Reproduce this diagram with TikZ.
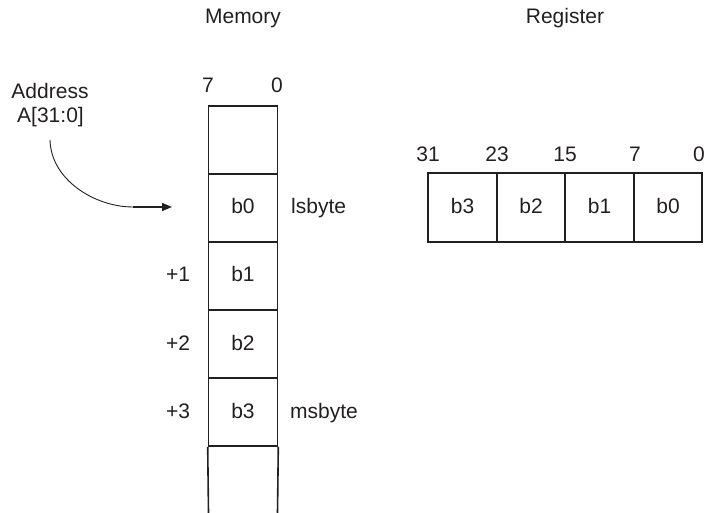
\documentclass[tikz,border=0pt]{standalone}
\usepackage{fontspec}
\setmainfont{Liberation Sans}
\usetikzlibrary{arrows.meta}
\definecolor{ink}{RGB}{35,31,32}
\begin{document}
\begin{tikzpicture}[x=1pt,y=-1pt,color=ink,
  lbl/.style={inner sep=0pt,anchor=base,font=\fontsize{21}{24}\selectfont},
  cellbox/.style={draw,line width=1.6pt,minimum width=69pt,minimum height=68pt,inner sep=0pt,text height=14pt,text depth=2pt,font=\fontsize{21}{24}\selectfont},
  regbox/.style={draw,line width=1.6pt,minimum width=68.5pt,minimum height=69pt,inner sep=0pt,text height=14pt,text depth=2pt,font=\fontsize{21}{24}\selectfont}]
\useasboundingbox (0,0) rectangle (718,513);
% titles
\node[lbl] (memt) at (243,24) {Memory};
\node[lbl] (regt) at (565,24) {Register};
% memory column
\node[cellbox] (m0) at (243,140) {};
\node[cellbox] (m1) at (243,208) {b0};
\node[cellbox] (m2) at (243,276) {b1};
\node[cellbox] (m3) at (243,344) {b2};
\node[cellbox] (m4) at (243,412) {b3};
\coordinate (mbl) at (208.5,513);
\coordinate (mbr) at (277.5,513);
\draw[line width=1.6pt] (m4.south west) -- (mbl) (m4.south east) -- (mbr);
\node[lbl] (h7) at (208,93) {7};
\node[lbl] (h0) at (277,93) {0};
\node[lbl,anchor=base west] (lsb) at (291,214) {lsbyte};
\node[lbl,anchor=base west] (msb) at (290,418) {msbyte};
\node[lbl] (p1) at (178,282) {+1};
\node[lbl] (p2) at (178,350) {+2};
\node[lbl] (p3) at (178,418) {+3};
% address
\node[lbl] (addr) at (50,99) {Address};
\node[lbl] (aaddr) at (50.5,123) {A[31:0]};
\coordinate (astart) at (50,140);
\coordinate (amid) at (133,207);
\coordinate (aend) at (172,207);
\draw[line width=0.9pt] (astart) .. controls (51,180) and (95,207) .. (amid);
\draw[line width=1.4pt,-{Triangle[length=10pt,width=8pt]}] (amid) -- (aend);
% register
\node[regbox] (r3) at (462.5,207.5) {b3};
\node[regbox] (r2) at (531,207.5) {b2};
\node[regbox] (r1) at (599.5,207.5) {b1};
\node[regbox] (r0) at (668,207.5) {b0};
\node[lbl] (n31) at (428,162) {31};
\node[lbl] (n23) at (497,162) {23};
\node[lbl] (n15) at (565,162) {15};
\node[lbl] (n7) at (635,162) {7};
\node[lbl] (n0) at (699,162) {0};
\end{tikzpicture}
\end{document}
